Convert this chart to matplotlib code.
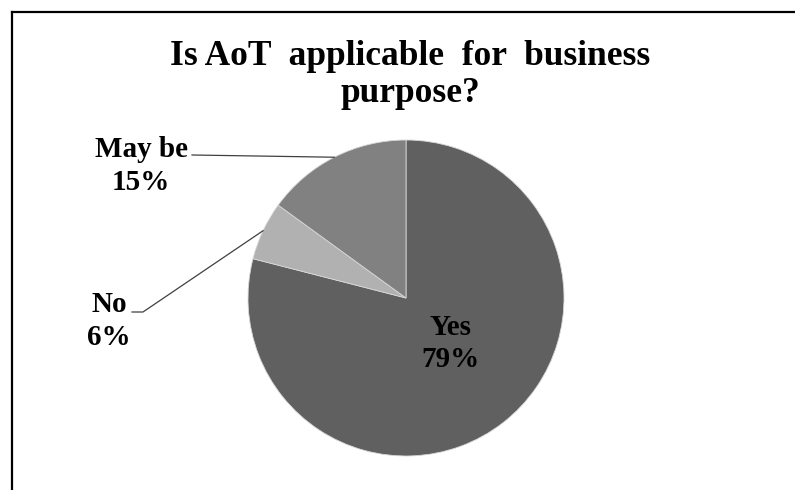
import numpy as np
import matplotlib
matplotlib.use("Agg")
import matplotlib.pyplot as plt

# survey answers
categories = ["Yes", "No", "May be"]
shares = [79, 6, 15]
colors = ["#606060", "#b1b1b1", "#818181"]
title_lines = ["Is AoT  applicable  for  business", "purpose?"]

W, H, DPI = 795, 490, 100
CX, CY, R = 406, 298, 158  # pie centre and radius in pixels


def px(x, y):
    # pixel position -> data coords (pie radius = 1)
    return (x - CX) / R, (CY - y) / R


plt.rcParams["font.family"] = ["Liberation Serif", "DejaVu Serif"]
plt.rcParams["font.weight"] = "bold"

fig = plt.figure(figsize=(W / DPI, H / DPI), dpi=DPI)
ax = fig.add_axes([0, 0, 1, 1])

wedges, _ = ax.pie(shares, colors=colors, startangle=90, counterclock=False,
                   radius=1, wedgeprops=dict(edgecolor="#d8d8d8", linewidth=0.6))

ax.set_xlim(-CX / R, (W - CX) / R)
ax.set_ylim(-(H - CY) / R, CY / R)
ax.set_aspect("auto")
ax.axis("off")

# frame lines along the top and left
fig.add_artist(plt.Line2D([12 / W, 1], [1 - 12 / H, 1 - 12 / H], color="black", lw=1.6))
fig.add_artist(plt.Line2D([12 / W, 12 / W], [0, 1 - 12 / H], color="black", lw=1.6))

for line, base in zip(title_lines, [65, 102]):
    fig.text(410 / W, 1 - base / H, line, ha="center", va="baseline",
             fontsize=25.5, fontweight="bold")


def mid_point(w, r=1.0):
    ang = np.deg2rad((w.theta1 + w.theta2) / 2)
    return r * np.cos(ang), r * np.sin(ang)


def two_line_label(x, y1, y2, name, pct):
    ax.text(*px(x, y1), name, ha="center", va="baseline", fontsize=21, fontweight="bold")
    ax.text(*px(x, y2), f"{pct}%", ha="center", va="baseline", fontsize=21, fontweight="bold")


# Yes inside the slice
two_line_label(450, 335, 367, categories[0], shares[0])

# No with leader line
two_line_label(109, 312, 345, categories[1], shares[1])
ex, ey = mid_point(wedges[1])
sx, sy = px(132, 312)
kx, ky = px(143, 312)
ax.plot([sx, kx, ex], [sy, ky, ey], color="#404040", lw=0.9)

# May be with leader line
two_line_label(141, 157, 190, categories[2], shares[2])
ex, ey = mid_point(wedges[2])
sx, sy = px(192, 155)
ax.plot([sx, ex], [sy, ey], color="#404040", lw=0.9)

fig.savefig("out.png", dpi=DPI, facecolor="white")
